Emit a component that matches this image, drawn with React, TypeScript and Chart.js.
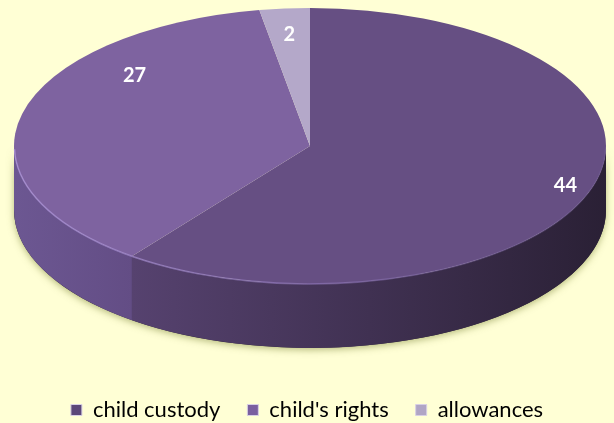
import React, { useEffect, useRef } from 'react';
import { Chart, registerables } from 'chart.js';

Chart.register(...registerables);

const categories = ['child custody', "child's rights", 'allowances'];
const values = [44, 27, 2];
const topColors = ['#664f83', '#7e63a0', '#b4a8c9'];
const wallLight = ['#56426f', '#6c5792', '#9a8db0'];
const wallDark = ['#2a2035', '#634d85', '#8a7da0'];
const legendColors = ['#5b4779', '#7a5fa0', '#b0a5c5'];

// geometry / style of the 3D effect
const CX = 310;
const CY = 146;
const RX = 296;
const RY = 138;
const DEPTH = 64;
const LABEL_R = [0.91, 0.78, 0.81];
const LABEL_SHIFT = [0, 27, 0];

function frontSegments(s: number, e: number) {
  const segs: [number, number][] = [];
  for (let k = -2; k <= 2; k++) {
    const lo = Math.max(s, 2 * Math.PI * k);
    const hi = Math.min(e, 2 * Math.PI * k + Math.PI);
    if (hi > lo) segs.push([lo, hi]);
  }
  return segs;
}

const pie3d = {
  id: 'pie3d',
  beforeDatasetsDraw(chart: any) {
    const ctx = chart.ctx as CanvasRenderingContext2D;
    const meta = chart.getDatasetMeta(0);
    const arcs = meta.data as any[];
    if (!arcs.length) return;
    ctx.save();
    ctx.shadowColor = 'rgba(110,120,40,0.5)';
    ctx.shadowBlur = 7;
    ctx.shadowOffsetY = 2;
    ctx.beginPath();
    ctx.ellipse(CX, CY, RX, RY, 0, 0, Math.PI, false);
    ctx.ellipse(CX, CY + DEPTH, RX, RY, 0, Math.PI, 0, true);
    ctx.closePath();
    ctx.fillStyle = wallDark[0];
    ctx.fill();
    ctx.restore();
    arcs.forEach((a: any, i: number) => {
      const segs = frontSegments(a.startAngle, a.endAngle);
      segs.forEach(([lo, hi]) => {
        const xl = CX + RX * Math.cos(hi);
        const xr = CX + RX * Math.cos(lo);
        const g = ctx.createLinearGradient(Math.min(xl, xr), 0, Math.max(xl, xr) + 1, 0);
        g.addColorStop(0, wallLight[i]);
        g.addColorStop(1, wallDark[i]);
        ctx.save();
        ctx.beginPath();
        ctx.ellipse(CX, CY, RX, RY, 0, lo, hi, false);
        ctx.ellipse(CX, CY + DEPTH, RX, RY, 0, hi, lo, true);
        ctx.closePath();
        ctx.fillStyle = g;
        ctx.fill();
        ctx.restore();
      });
    });
    const a0 = arcs[0];
    const r = a0.outerRadius;
    ctx.save();
    ctx.translate(CX, CY);
    ctx.scale(RX / r, RY / r);
    ctx.translate(-a0.x, -a0.y);
  },
  afterDatasetsDraw(chart: any) {
    const ctx = chart.ctx as CanvasRenderingContext2D;
    const meta = chart.getDatasetMeta(0);
    const arcs = meta.data as any[];
    if (!arcs.length) return;
    ctx.restore();
    ctx.save();
    const g = ctx.createLinearGradient(CX - RX, 0, CX + RX, 0);
    g.addColorStop(0, 'rgba(175,150,220,0.75)');
    g.addColorStop(0.5, 'rgba(150,125,195,0.55)');
    g.addColorStop(1, 'rgba(120,100,160,0.3)');
    ctx.strokeStyle = g;
    ctx.lineWidth = 1.5;
    ctx.beginPath();
    ctx.ellipse(CX, CY + 0.5, RX - 0.5, RY - 0.5, 0, 0.02, Math.PI - 0.02, false);
    ctx.stroke();
    ctx.restore();
    ctx.save();
    ctx.fillStyle = '#ffffff';
    ctx.font = 'bold 20px Lato, "DejaVu Sans", sans-serif';
    ctx.textAlign = 'center';
    ctx.textBaseline = 'middle';
    arcs.forEach((a: any, i: number) => {
      const mid = (a.startAngle + a.endAngle) / 2 + (LABEL_SHIFT[i] * Math.PI) / 180;
      const x = CX + RX * LABEL_R[i] * Math.cos(mid);
      const y = CY + RY * LABEL_R[i] * Math.sin(mid);
      ctx.fillText(String(values[i]), x, y);
    });
    ctx.restore();
  },
};

export default function App() {
  const ref = useRef<HTMLCanvasElement | null>(null);
  useEffect(() => {
    if (!ref.current) return;
    const chart = new Chart(ref.current, {
      type: 'pie',
      data: {
        labels: categories,
        datasets: [
          {
            data: values,
            backgroundColor: topColors,
            borderWidth: 0,
            hoverOffset: 0,
          },
        ],
      },
      options: {
        responsive: true,
        maintainAspectRatio: false,
        animation: false,
        clip: false as any,
        layout: { padding: { bottom: -8 } },
        plugins: {
          tooltip: { enabled: false },
          legend: {
            position: 'bottom',
            labels: {
              boxWidth: 11,
              boxHeight: 11,
              padding: 27,
              color: '#000000',
              font: { family: 'Lato, "Open Sans", sans-serif', size: 22 },
              generateLabels: () =>
                categories.map((c, i) => ({
                  text: c,
                  fillStyle: legendColors[i],
                  strokeStyle: '#d8d0e4',
                  lineWidth: 1,
                  hidden: false,
                  index: i,
                  datasetIndex: 0,
                })),
            },
          },
        },
      },
      plugins: [pie3d],
    });
    return () => chart.destroy();
  }, []);
  return (
    <div
      style={{
        position: 'fixed',
        left: 0,
        top: 0,
        width: 614,
        height: 423,
        background: '#ffffd5',
      }}
    >
      <canvas ref={ref} />
    </div>
  );
}
